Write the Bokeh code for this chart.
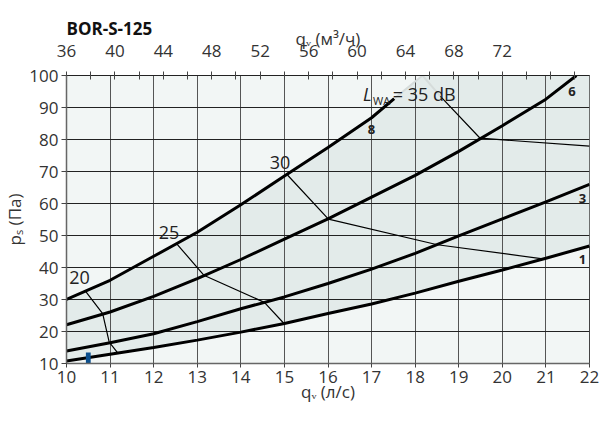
import numpy as np
from bokeh.plotting import figure
from bokeh.models import Range1d, LinearAxis, FixedTicker, Label
from bokeh.core.properties import value
from bokeh.embed import file_html
from bokeh.resources import INLINE

# ---------------- data ----------------
title_text = "BOR-S-125"
x_label = "qᵥ (л/с)"
top_label = "qᵥ (м³/ч)"
y_label = "pₛ (Па)"
x_ticks = list(range(10, 23))
y_ticks = list(range(10, 101, 10))
top_ticks = [36, 40, 44, 48, 52, 56, 60, 64, 68, 72]
top_minor = [38, 42, 46, 50, 54, 58, 62, 66, 70, 74, 76, 78]

# fan curves (Pa vs l/s)
c1_x = [10, 11, 12, 13, 14, 15, 16, 17, 18, 19, 20, 21, 22]
c1_y = [10.8, 12.9, 15.0, 17.3, 19.8, 22.5, 25.6, 28.6, 32.0, 35.7, 39.2, 42.9, 46.7]
c3_x = [10, 11, 12, 13, 14, 15, 16, 17, 18, 19, 20, 21, 22]
c3_y = [13.9, 16.5, 19.3, 23.1, 27.1, 30.8, 35.0, 39.5, 44.4, 49.9, 55.2, 60.5, 66.0]
c6_x = [10, 11, 12, 13, 14, 15, 16, 17, 18, 19, 20, 21, 21.7]
c6_y = [22.1, 26.1, 31.0, 36.5, 42.5, 48.9, 55.2, 62.0, 68.8, 76.3, 84.3, 92.6, 100.0]
c8_x = [10, 11, 12, 13, 14, 15, 16, 17, 17.52]
c8_y = [30.0, 36.0, 43.5, 51.0, 59.6, 68.6, 77.5, 86.8, 92.8]
c8_ext_x = [17.52, 18.17, 18.58]
c8_ext_y = [92.8, 100.0, 93.5]

# sound-level isolines (L_WA, dB)
iso20_x = [10.43, 10.83, 10.98, 11.17]
iso20_y = [32.7, 25.6, 16.7, 13.4]
iso25_x = [12.53, 13.15, 14.54, 14.99]
iso25_y = [47.4, 37.6, 29.1, 22.5]
iso30_x = [15.07, 16.01, 18.51, 20.93]
iso30_y = [68.9, 55.1, 47.1, 42.7]
iso35_x = [18.58, 19.49, 22.0]
iso35_y = [93.5, 80.4, 77.9]

iso_labels = ["20", "25", "30"]
iso_label_x = [10.3, 12.35, 14.9]
iso_label_y = [37.0, 50.9, 72.7]

curve_labels = ["8", "6", "3", "1"]
curve_label_x = [17.0, 21.6, 21.84, 21.84]
curve_label_y = [83.1, 95.0, 61.5, 42.6]

level_label = ["L", "WA", "= 35 dB"]

marker_x = [10.5]
marker_y0 = [10.0]
marker_y1 = [13.4]

FONT = "Open Sans"
TXT = "#333333"

# ---------------- figure ----------------
p = figure(width=601, height=417, x_range=Range1d(10, 22), y_range=Range1d(10, 100),
           output_backend="svg", toolbar_location=None,
           min_border_left=60, min_border_right=12, min_border_top=61, min_border_bottom=54)
p.background_fill_color = "#f2f6f5"
p.border_fill_color = "white"
p.outline_line_color = "#444444"
p.outline_line_width = 1

# shaded working area
poly_x = list(c1_x) + [22, c8_ext_x[1]] + list(c8_x[::-1])
poly_y = list(c1_y) + [100, 100] + list(c8_y[::-1])
p.patch(poly_x, poly_y, fill_color="#e3ebea", line_color=None, level="image")

# grids
p.xgrid.ticker = FixedTicker(ticks=x_ticks)
p.ygrid.ticker = FixedTicker(ticks=y_ticks)
p.xgrid.grid_line_color = "#555555"
p.ygrid.grid_line_color = "#222222"

def style_axis(ax, label, tick_out, standoff, label_standoff):
    ax.major_tick_out = tick_out
    ax.major_tick_in = 0
    ax.major_tick_line_color = "#444444"
    ax.minor_tick_line_color = None
    ax.major_label_standoff = standoff
    ax.major_label_text_font = FONT
    ax.major_label_text_font_size = "17px"
    ax.major_label_text_color = TXT
    ax.axis_label = label
    ax.axis_label_text_font = FONT
    ax.axis_label_text_font_size = "17px"
    ax.axis_label_text_font_style = "normal"
    ax.axis_label_text_color = TXT
    ax.axis_label_standoff = label_standoff

# bottom axis
xa = p.xaxis[0]
xa.ticker = FixedTicker(ticks=x_ticks)
xa.axis_line_color = "#666666"
xa.axis_line_width = 1.5
style_axis(xa, x_label, 4, 3, -6)

# left axis
ya = p.yaxis[0]
ya.ticker = FixedTicker(ticks=y_ticks)
ya.axis_line_color = "#666666"
ya.axis_line_width = 1.5
style_axis(ya, y_label, 5, 3, 0)

# top axis (m3/h)
p.extra_x_ranges = {"m3h": Range1d(36, 79.2)}
ta = LinearAxis(x_range_name="m3h", ticker=FixedTicker(ticks=top_ticks, minor_ticks=top_minor))
ta.axis_line_color = "#222222"
style_axis(ta, top_label, 4, 15, -8)
ta.major_tick_in = 4
ta.minor_tick_in = 4
ta.minor_tick_out = 4
ta.minor_tick_line_color = "#444444"
p.add_layout(ta, "above")

# curves
for cx, cy in [(c1_x, c1_y), (c3_x, c3_y), (c6_x, c6_y), (c8_x, c8_y)]:
    p.line(cx, cy, line_color="black", line_width=3)
p.line(c8_ext_x, c8_ext_y, line_color="#d6dcdb", line_width=2)

for ix, iy in [(iso20_x, iso20_y), (iso25_x, iso25_y), (iso30_x, iso30_y), (iso35_x, iso35_y)]:
    p.line(ix, iy, line_color="black", line_width=1.2)

p.quad(left=[m - 0.055 for m in marker_x], right=[m + 0.055 for m in marker_x],
       bottom=marker_y0, top=marker_y1, fill_color="#0b4f8e", line_color=None)

p.text(iso_label_x, iso_label_y, text=iso_labels, text_font=value(FONT), text_font_size="18px",
       text_color="#222222", text_align="center", text_baseline="middle")
p.text(curve_label_x, curve_label_y, text=curve_labels, text_font=value(FONT), text_font_size="13px",
       text_font_style="bold", text_color="#222222", text_align="center", text_baseline="middle")

# ---------------- text annotations (positioned from the pixel layout) ----------------
SX = 529 / 12.0
SY = 302 / 90.0
def dx(px):
    return 10 + (px - 68) / SX
def dy(py):
    return 10 + (371 - py) / SY

def lab(px, py, t, size, style="normal", color="#222222"):
    p.add_layout(Label(x=dx(px), y=dy(py), text=t, text_font=FONT, text_font_size=size,
                       text_font_style=style, text_color=color,
                       text_baseline="alphabetic", text_align="left"))

lab(368, 88, level_label[0], "18px", "italic")
lab(378, 95, level_label[1], "11px")
lab(398, 88, level_label[2], "18px")

# chart title, placed in the top side panel (outside the frame), above the tick labels
p.add_layout(Label(x=dx(68), y=dy(20), text=title_text, text_font=FONT, text_font_size="17px",
                   text_font_style="bold", text_color="#111111",
                   text_baseline="alphabetic", text_align="left"), "above")

open("out.html", "w").write(file_html(p, INLINE))
